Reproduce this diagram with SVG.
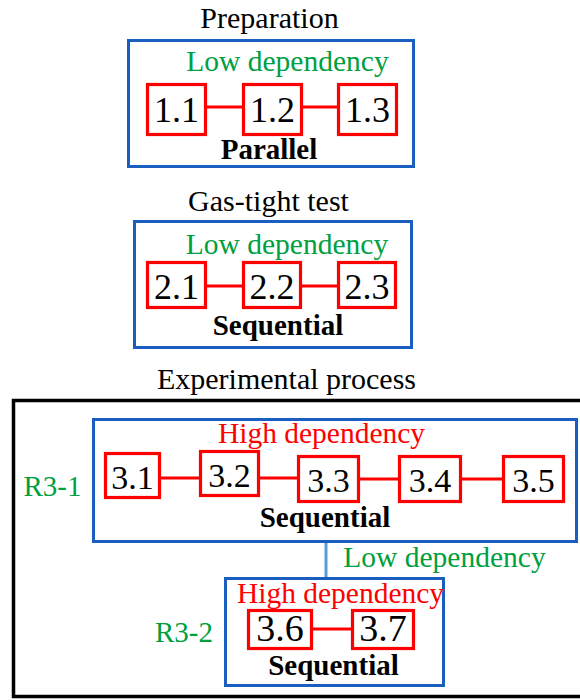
<svg xmlns="http://www.w3.org/2000/svg" width="580" height="700" viewBox="0 0 580 700">
<style>
text{font-family:"Liberation Serif","Times New Roman",serif;text-anchor:middle}
.title{font-size:30px;fill:#000}
.low{font-size:29.5px;fill:#00a040}
.high{font-size:29.5px;fill:#ff0000}
.lab{font-size:29px;fill:#00a040}
.mode{font-size:29px;font-weight:bold;fill:#000}
.num{font-size:36px;fill:#000}
.grp{fill:none;stroke:#1a5fbf;stroke-width:3}
.task{fill:#fff;stroke:#ff0000;stroke-width:3.2}
.link{stroke:#ff0000;stroke-width:3;fill:none}
</style>

<g id="prep">
<text class="title" x="269.5" y="28">Preparation</text>
<rect class="grp" x="128.5" y="40.5" width="285" height="126"/>
<text class="low" x="287.5" y="71">Low dependency</text>
<text class="mode" x="269" y="159">Parallel</text>
</g>
<g id="n1_1"><rect class="task" x="147.5" y="84.5" width="58" height="50"/><text class="num" x="176.5" y="122">1.1</text></g>
<g id="n1_2"><rect class="task" x="243.5" y="84.5" width="58" height="50"/><text class="num" x="272.5" y="122">1.2</text></g>
<g id="n1_3"><rect class="task" x="338.5" y="84.5" width="58" height="50"/><text class="num" x="367.5" y="122">1.3</text></g>

<g id="gas">
<text class="title" x="268.5" y="211">Gas-tight test</text>
<rect class="grp" x="134.5" y="221.5" width="277" height="126"/>
<text class="low" x="287" y="254">Low dependency</text>
<text class="mode" x="278" y="335">Sequential</text>
</g>
<g id="n2_1"><rect class="task" x="147.5" y="262.5" width="58" height="45"/><text class="num" x="176.5" y="299">2.1</text></g>
<g id="n2_2"><rect class="task" x="243.5" y="262.5" width="57" height="45"/><text class="num" x="272" y="299">2.2</text></g>
<g id="n2_3"><rect class="task" x="338.5" y="262.5" width="57" height="45"/><text class="num" x="367" y="299">2.3</text></g>

<g id="exp">
<text class="title" x="286.5" y="389">Experimental process</text>
<rect x="13.5" y="400.5" width="580" height="296" fill="none" stroke="#000" stroke-width="3.5"/>
</g>

<g id="r3_1">
<rect class="grp" x="93.5" y="419.5" width="483" height="122"/>
<text class="high" x="321.5" y="443">High dependency</text>
<text class="lab" x="52.5" y="496">R3-1</text>
<text class="mode" x="325" y="527">Sequential</text>
</g>
<g id="n3_1"><rect class="task" x="105.5" y="453.5" width="54" height="44"/><text class="num" x="132.5" y="489" style="font-size:34px">3.1</text></g>
<g id="n3_2"><rect class="task" x="200.5" y="451.5" width="58" height="44"/><text class="num" x="229.5" y="487" style="font-size:34px">3.2</text></g>
<g id="n3_3"><rect class="task" x="298.5" y="456.5" width="60" height="45"/><text class="num" x="328.5" y="492" style="font-size:34px">3.3</text></g>
<g id="n3_4"><rect class="task" x="399.5" y="456.5" width="61" height="45"/><text class="num" x="430" y="492" style="font-size:34px">3.4</text></g>
<g id="n3_5"><rect class="task" x="503.5" y="456.5" width="60" height="45"/><text class="num" x="533.5" y="492" style="font-size:34px">3.5</text></g>

<g id="r3_2">
<rect class="grp" x="225.5" y="578.5" width="218" height="107"/>
<text class="high" x="340.5" y="603">High dependency</text>
<text class="lab" x="184" y="642">R3-2</text>
<text class="mode" x="333.5" y="675">Sequential</text>
</g>
<g id="n3_6"><rect class="task" x="248.5" y="610.5" width="63" height="38"/><text class="num" x="280" y="641" style="font-size:38px">3.6</text></g>
<g id="n3_7"><rect class="task" x="352.5" y="610.5" width="61" height="38"/><text class="num" x="383" y="641" style="font-size:38px">3.7</text></g>

<g id="connectors">
<line class="link" x1="207" y1="107" x2="242" y2="107"/>
<line class="link" x1="303" y1="107" x2="337" y2="107"/>
<line class="link" x1="207" y1="286" x2="242" y2="286"/>
<line class="link" x1="302" y1="286" x2="337" y2="286"/>
<line class="link" x1="161" y1="478" x2="199" y2="478"/>
<line class="link" x1="260" y1="478" x2="297" y2="478"/>
<line class="link" x1="360" y1="479" x2="398" y2="479"/>
<line class="link" x1="462" y1="479" x2="502" y2="479"/>
<line class="link" x1="313" y1="629" x2="351" y2="629"/>
<line x1="326" y1="543" x2="326" y2="577" stroke="#5b9bd5" stroke-width="3"/>
<text class="low" x="444.5" y="567">Low dependency</text>
</g>
</svg>
